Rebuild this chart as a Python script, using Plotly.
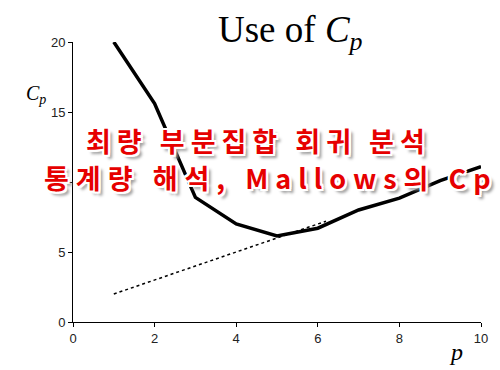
import plotly.graph_objects as go

# Data
p_vals = [1, 2, 3, 4, 5, 6, 7, 8, 9, 10]
cp_vals = [20.0, 15.6, 8.9, 7.0, 6.15, 6.7, 8.0, 8.85, 10.1, 11.1]
ref_x = [1, 6.2]
ref_y = [2, 7.2]
x_ticks = [0, 2, 4, 6, 8, 10]
y_ticks = [0, 5, 10, 15, 20]
title_text = "Use of <i>C<sub>p</sub></i>"
overlay_line1 = "최량 부분집합 회귀 분석"
overlay_line2 = "통계량 해석, Mallows의 Cp"

fig = go.Figure()
fig.add_trace(go.Scatter(x=ref_x, y=ref_y, mode="lines",
                         line=dict(color="black", width=1.5, dash="dot"),
                         showlegend=False, hoverinfo="skip"))
fig.add_trace(go.Scatter(x=p_vals, y=cp_vals, mode="lines",
                         line=dict(color="black", width=3.5),
                         showlegend=False, hoverinfo="skip"))

axis_common = dict(showgrid=False, zeroline=False, showline=True,
                   linecolor="black", linewidth=1, ticks="outside",
                   ticklen=4, tickcolor="black",
                   tickfont=dict(family="Liberation Sans, Arial", size=13, color="#222"))

fig.update_layout(
    width=500, height=370,
    margin=dict(l=73, r=13, t=42, b=48),
    paper_bgcolor="white", plot_bgcolor="white",
    xaxis=dict(range=[0, 10], tickvals=x_ticks, **axis_common),
    yaxis=dict(range=[0, 20], tickvals=y_ticks, **axis_common),
)

serif = "Liberation Serif, Times New Roman, serif"
fig.add_annotation(text=title_text, xref="paper", yref="paper",
                   x=(294 - 73) / 414, y=1.0, xanchor="center", yanchor="bottom",
                   yshift=-16, showarrow=False,
                   font=dict(family=serif, size=37, color="black"))
fig.add_annotation(text="<i>C<sub>p</sub></i>", xref="paper", yref="paper",
                   x=(35 - 73) / 414, y=(322 - 94) / 280, xanchor="center", yanchor="middle",
                   showarrow=False, font=dict(family=serif, size=20, color="black"))
fig.add_annotation(text="<i>p</i>", xref="paper", yref="paper",
                   x=(462 - 73) / 414, y=(322 - 352) / 280, xanchor="center", yanchor="middle",
                   showarrow=False, font=dict(family=serif, size=24, color="black"))

shadow = ("2px 0 0 #fff, -2px 0 0 #fff, 0 2px 0 #fff, 0 -2px 0 #fff, "
          "2px 2px 0 #fff, -2px -2px 0 #fff, 2px -2px 0 #fff, -2px 2px 0 #fff, "
          "4px 4px 3px #999")
kfont = dict(family="Noto Sans CJK KR", size=27, color="#e60000", weight="bold", shadow=shadow)
fig.add_annotation(text='<span style="letter-spacing:6px">{}</span>'.format(overlay_line1),
                   xref="paper", yref="paper",
                   x=(261 - 73) / 414, y=(322 - 140) / 280, xanchor="center", yanchor="middle",
                   showarrow=False, font=kfont)
fig.add_annotation(text='<span style="letter-spacing:7px">{}</span>'.format(overlay_line2),
                   xref="paper", yref="paper",
                   x=(274 - 73) / 414, y=(322 - 177) / 280, xanchor="center", yanchor="middle",
                   showarrow=False, font=kfont)

fig.write_html("out.html")
